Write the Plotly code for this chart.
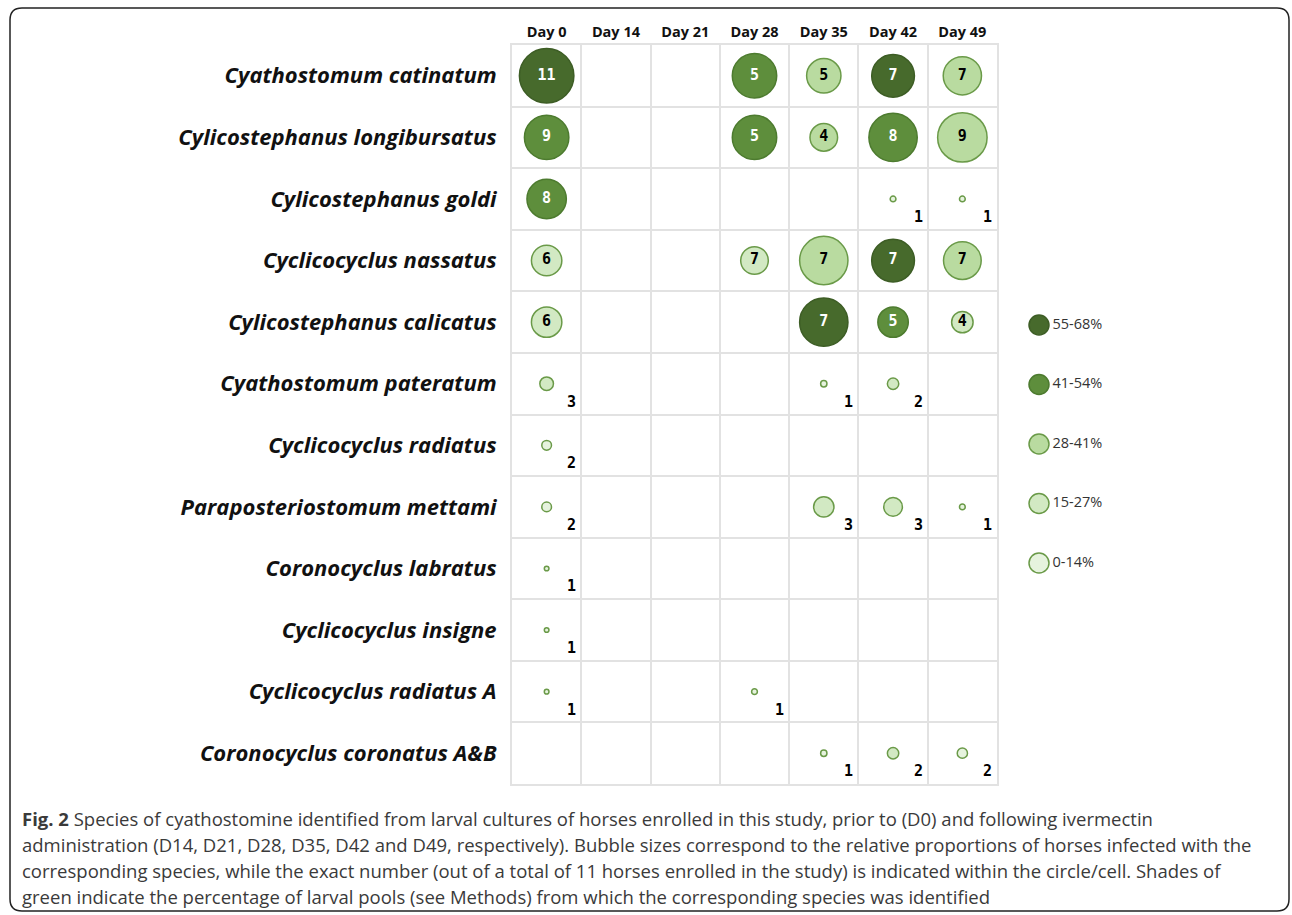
import plotly.graph_objects as go

# ---------------- data ----------------
days = ["Day 0", "Day 14", "Day 21", "Day 28", "Day 35", "Day 42", "Day 49"]
species = [
    "Cyathostomum catinatum",
    "Cylicostephanus longibursatus",
    "Cylicostephanus goldi",
    "Cyclicocyclus nassatus",
    "Cylicostephanus calicatus",
    "Cyathostomum pateratum",
    "Cyclicocyclus radiatus",
    "Paraposteriostomum mettami",
    "Coronocyclus labratus",
    "Cyclicocyclus insigne",
    "Cyclicocyclus radiatus A",
    "Coronocyclus coronatus A&B",
]
pct_classes = ["55-68%", "41-54%", "28-41%", "15-27%", "0-14%"]

obs_species = (
    [0] * 5 + [1] * 5 + [2] * 3 + [3] * 5 + [4] * 4 + [5] * 3
    + [6] + [7] * 4 + [8] + [9] + [10] * 2 + [11] * 3
)
obs_day = [
    "Day 0", "Day 28", "Day 35", "Day 42", "Day 49",
    "Day 0", "Day 28", "Day 35", "Day 42", "Day 49",
    "Day 0", "Day 42", "Day 49",
    "Day 0", "Day 28", "Day 35", "Day 42", "Day 49",
    "Day 0", "Day 35", "Day 42", "Day 49",
    "Day 0", "Day 35", "Day 42",
    "Day 0",
    "Day 0", "Day 35", "Day 42", "Day 49",
    "Day 0",
    "Day 0",
    "Day 0", "Day 28",
    "Day 35", "Day 42", "Day 49",
]
obs_count = [
    11, 5, 5, 7, 7,
    9, 5, 4, 8, 9,
    8, 1, 1,
    6, 7, 7, 7, 7,
    6, 7, 5, 4,
    3, 1, 2,
    2,
    2, 3, 3, 1,
    1,
    1,
    1, 1,
    1, 2, 2,
]
obs_class = [
    "55-68%", "41-54%", "28-41%", "55-68%", "28-41%",
    "41-54%", "41-54%", "28-41%", "41-54%", "28-41%",
    "41-54%", "0-14%", "0-14%",
    "15-27%", "15-27%", "28-41%", "55-68%", "28-41%",
    "15-27%", "55-68%", "41-54%", "15-27%",
    "15-27%", "0-14%", "15-27%",
    "0-14%",
    "0-14%", "15-27%", "15-27%", "0-14%",
    "0-14%",
    "0-14%",
    "0-14%", "0-14%",
    "0-14%", "15-27%", "0-14%",
]
# relative bubble proportion (largest bubble = 100)
obs_rel = [
    100, 82, 64, 79, 71,
    82, 82, 52, 89, 91,
    73, 13, 13,
    57, 52, 89, 79, 70,
    57, 89, 57, 41,
    27, 14, 23,
    20,
    20, 39, 36, 13,
    11,
    11,
    11, 13,
    14, 23, 21,
]

caption_lines = [
    "<b>Fig. 2</b> Species of cyathostomine identified from larval cultures of horses enrolled in this study, prior to (D0) and following ivermectin",
    "administration (D14, D21, D28, D35, D42 and D49, respectively). Bubble sizes correspond to the relative proportions of horses infected with the",
    "corresponding species, while the exact number (out of a total of 11 horses enrolled in the study) is indicated within the circle/cell. Shades of",
    "green indicate the percentage of larval pools (see Methods) from which the corresponding species was identified",
]

# ---------------- styles ----------------
fill = {
    "55-68%": "#476a2c",
    "41-54%": "#5e8e3c",
    "28-41%": "#b9dba0",
    "15-27%": "#d2e9c3",
    "0-14%": "#e6f3de",
}
edge = {
    "55-68%": "#3d5d25",
    "41-54%": "#4d7b2f",
    "28-41%": "#6a9a48",
    "15-27%": "#6a9a48",
    "0-14%": "#6a9a48",
}
text_col = {"55-68%": "white", "41-54%": "white", "28-41%": "black",
            "15-27%": "black", "0-14%": "black"}
MAX_D = 56
LW = 1.5

W, H = 1292, 915
ML, MR, MT, MB = 512, 100, 45, 131
PW, PH = W - ML - MR, H - MT - MB
GRID_RIGHT = 997


def px_x(px):
    return (px - ML) / PW


def px_y(py):
    return (H - MB - py) / PH


fig = go.Figure()

sp_names = [species[i] for i in obs_species]
sizes = [r / 100 * MAX_D - LW for r in obs_rel]
inside = [c >= 4 for c in obs_count]

fig.add_trace(go.Scatter(
    x=obs_day, y=sp_names,
    mode="markers+text",
    marker=dict(
        size=sizes,
        color=[fill[c] for c in obs_class],
        line=dict(color=[edge[c] for c in obs_class], width=LW),
        opacity=1,
    ),
    text=[str(n) if ins else "" for n, ins in zip(obs_count, inside)],
    textposition="middle center",
    textfont=dict(family="DejaVu Sans Mono", size=15, weight="bold",
                  color=[text_col[c] for c in obs_class]),
    showlegend=False, hoverinfo="skip",
    xaxis="x", yaxis="y",
))

annotations = []
for d, s, n, ins in zip(obs_day, sp_names, obs_count, inside):
    if not ins:
        annotations.append(dict(
            x=d, y=s, xref="x", yref="y", text=str(n), showarrow=False,
            xshift=25, yshift=-18,
            font=dict(family="DejaVu Sans Mono", size=15, weight="bold", color="black"),
        ))

# legend as its own small axis
fig.add_trace(go.Scatter(
    x=[0.19] * len(pct_classes), y=pct_classes,
    mode="markers+text",
    marker=dict(size=20, color=[fill[c] for c in pct_classes],
                line=dict(color=[edge[c] for c in pct_classes], width=LW)),
    text=pct_classes, textposition="middle right",
    textfont=dict(family="Open Sans", size=14.5, color="#333333"),
    showlegend=False, hoverinfo="skip",
    xaxis="x2", yaxis="y2",
))

for i, line in enumerate(caption_lines):
    annotations.append(dict(
        x=px_x(20), y=px_y(818 + i * 26), xref="paper", yref="paper",
        xanchor="left", yanchor="middle", showarrow=False, text=line,
        font=dict(family="Open Sans", size=18.5, color="#3a3a3a"),
    ))

# rounded frame
x0, x1, y0, y1, r = 10, 1289, 8, 911, 12
path = (
    f"M {px_x(x0 + r)} {px_y(y0)} L {px_x(x1 - r)} {px_y(y0)} "
    f"Q {px_x(x1)} {px_y(y0)} {px_x(x1)} {px_y(y0 + r)} "
    f"L {px_x(x1)} {px_y(y1 - r)} Q {px_x(x1)} {px_y(y1)} {px_x(x1 - r)} {px_y(y1)} "
    f"L {px_x(x0 + r)} {px_y(y1)} Q {px_x(x0)} {px_y(y1)} {px_x(x0)} {px_y(y1 - r)} "
    f"L {px_x(x0)} {px_y(y0 + r)} Q {px_x(x0)} {px_y(y0)} {px_x(x0 + r)} {px_y(y0)} Z"
)

grid_col = "#e2e2e2"
fig.update_layout(
    width=W, height=H,
    margin=dict(l=ML, r=MR, t=MT, b=MB, pad=0),
    paper_bgcolor="white", plot_bgcolor="white",
    xaxis=dict(
        type="category", categoryorder="array", categoryarray=days,
        range=[-0.5, len(days) - 0.5],
        domain=[0, px_x(GRID_RIGHT)], side="top",
        tickson="boundaries", ticks="", showgrid=True, gridcolor=grid_col, gridwidth=2,
        showline=True, mirror=True, linecolor=grid_col, linewidth=2,
        tickfont=dict(family="Open Sans", size=14.5, weight="bold", color="#111111"),
        ticklabelstandoff=0, fixedrange=True,
    ),
    yaxis=dict(
        type="category", categoryorder="array", categoryarray=species,
        range=[len(species) - 0.5, -0.5],
        tickson="boundaries", ticks="", showgrid=True, gridcolor=grid_col, gridwidth=2,
        showline=True, mirror=True, linecolor=grid_col, linewidth=2,
        tickfont=dict(family="Open Sans", size=22, weight="bold", style="italic",
                      color="#111111"),
        ticklabelstandoff=9, fixedrange=True,
    ),
    xaxis2=dict(domain=[px_x(1020), px_x(1120)], range=[0, 1], visible=False,
                anchor="y2", fixedrange=True),
    yaxis2=dict(domain=[px_y(592.75), px_y(295.25)], type="category",
                categoryorder="array", categoryarray=pct_classes,
                range=[len(pct_classes) - 0.5, -0.5], visible=False,
                anchor="x2", fixedrange=True),
    shapes=[dict(type="path", xref="paper", yref="paper", path=path,
                 line=dict(color="#222222", width=1.5), layer="below")],
    annotations=annotations,
)

fig.write_html(
    "out.html",
    config={"displayModeBar": False},
    post_script="document.body.style.margin='0px';document.body.style.overflow='hidden';",
)
